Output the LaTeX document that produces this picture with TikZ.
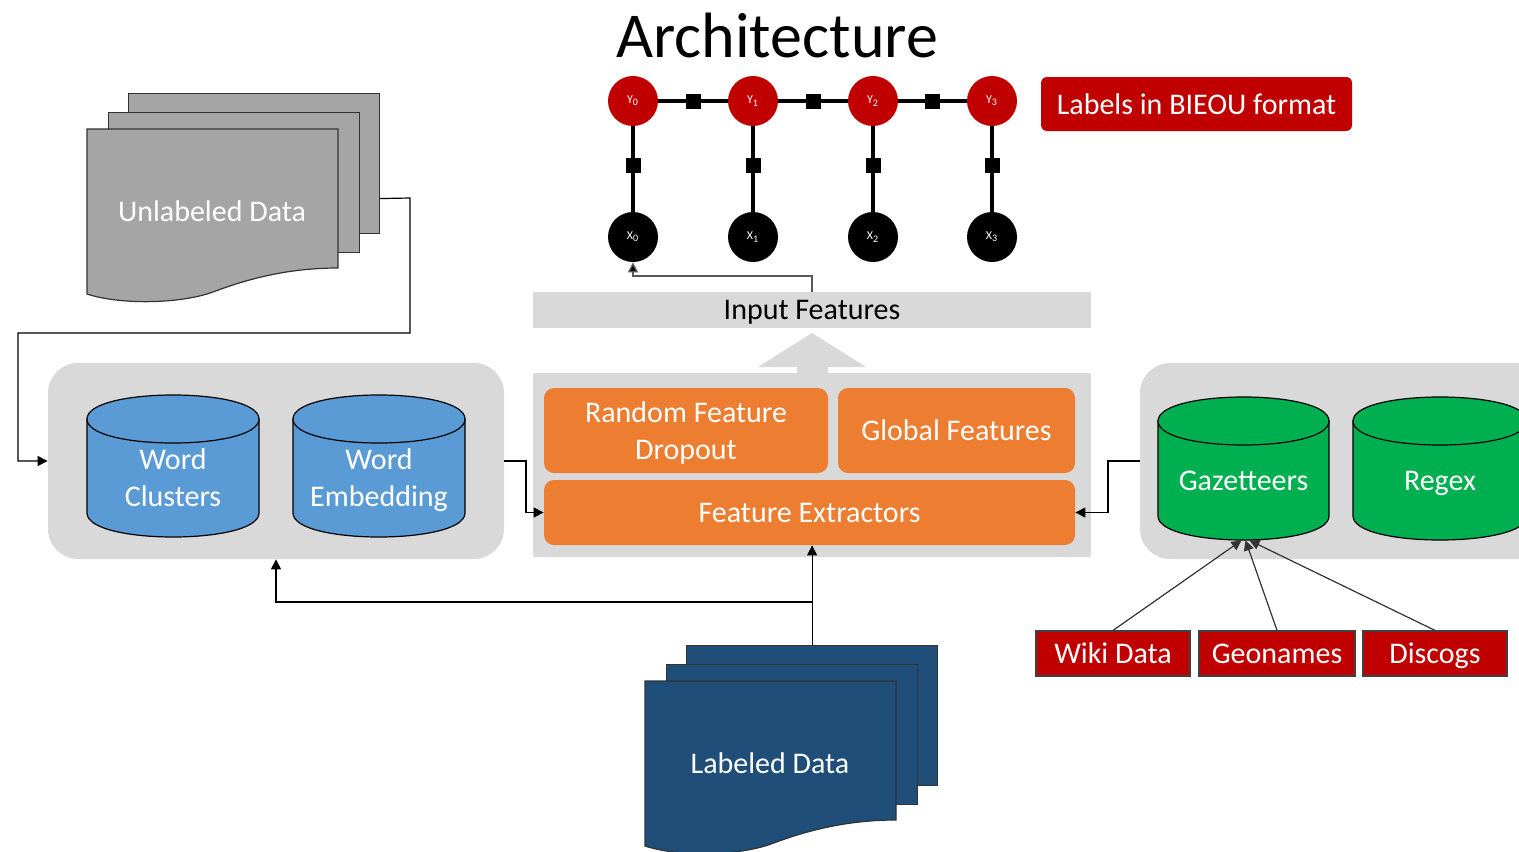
\documentclass[tikz,border=0pt]{standalone}
\usepackage{fontspec}
\setmainfont{Carlito}
\usetikzlibrary{arrows.meta,calc}
\definecolor{boxgray}{HTML}{D9D9D9}
\definecolor{orangeC}{HTML}{ED7D31}
\definecolor{blueC}{HTML}{5B9BD5}
\definecolor{greenC}{HTML}{00B050}
\definecolor{redC}{HTML}{C00000}
\definecolor{navyC}{HTML}{1F4E79}
\definecolor{docgray}{HTML}{A5A5A5}
\tikzset{
  txt/.style={font=\fontsize{15}{18.5}\selectfont, text=white, align=center, inner sep=0pt, text depth=0pt},
  container/.style={fill=boxgray, draw=none, inner sep=0pt},
  obox/.style={txt, fill=orangeC, rounded corners=5pt},
  srcbox/.style={txt, fill=redC, draw=black!75, line width=0.6pt, minimum height=22.5pt},
  conn/.style={draw=black, line width=0.6pt, -{Triangle[length=5pt,width=5pt]}},
  grayconn/.style={draw=black!65, line width=0.7pt, -{Triangle[length=5pt,width=5pt,fill=black]}},
  srcconn/.style={draw=black!80, line width=0.6pt, -{Triangle[length=5pt,width=5pt]}},
  docpage/.style={draw=black!80, line width=0.6pt, minimum width=125.5pt, minimum height=69.75pt, inner sep=0pt, anchor=north west},
  docfront/.style={draw=black!80, line width=0.6pt},
  cylbody/.style={draw=black, line width=0.6pt},
  crfnode/.style={circle, minimum size=25pt, inner sep=0pt, text=white, font=\fontsize{6}{7}\selectfont},
  ynode/.style={crfnode, fill=redC},
  xnode/.style={crfnode, fill=black},
  crfedge/.style={draw=black, line width=2pt},
  factor/.style={fill=black, minimum size=7.5pt, inner sep=0pt, rectangle}
}
% multi-document: #1 name, #2 x0, #3 y0 (front page top-left), #4 fill, #5 text
\newcommand\multidoc[5]{%
  \node[docpage, fill=#4] (#13) at (#2+41,#3-36) {};
  \node[docpage, fill=#4] (#12) at (#2+21,#3-17) {};
  \path[docfront, fill=#4] (#2,#3) -- (#2+251,#3) -- (#2+251,#3+139)
    .. controls (#2+203,#3+139) and (#2+163,#3+149) .. (#2+126,#3+163)
    .. controls (#2+93,#3+175) and (#2+33,#3+176) .. (#2,#3+165) -- cycle;
  \node[txt] (#1) at (#2+125,#3+82) {#5};
}
% cylinder: #1 name, #2 x0, #3 x1, #4 top, #5 bottom, #6 fill, #7 text
\newcommand\dbcyl[7]{%
  \path[cylbody, fill=#6] (#2,#4+24) -- (#2,#5-24)
    .. controls (#2,#5+8) and (#3,#5+8) .. (#3,#5-24) -- (#3,#4+24) -- cycle;
  \path[cylbody, fill=#6] (#2,#4+24) .. controls (#2,#4-8) and (#3,#4-8) .. (#3,#4+24)
    .. controls (#3,#4+56) and (#2,#4+56) .. (#2,#4+24) -- cycle;
  \node[inner sep=0pt, minimum width={(#3-#2)*0.5pt}, minimum height={(#5-#4)*0.5pt}] (#1) at ({(#2+#3)/2},{(#4+#5)/2}) {};
  \node[txt] (#1-t) at ({(#2+#3)/2},{(#4+#5)/2+12}) {#7};
}
\begin{document}
\begin{tikzpicture}[x=0.5pt,y=-0.5pt]
\useasboundingbox (0,0) rectangle (1519,851);
\clip (0,0) rectangle (1519,851);

% title
\node[font=\fontsize{32}{36}\selectfont, anchor=base, inner sep=0pt] (title) at (777,57) {Architecture};

% CRF chain
\node[ynode] (y0) at (633,101) {Y\textsubscript{0}};
\node[ynode] (y1) at (753,101) {Y\textsubscript{1}};
\node[ynode] (y2) at (873,101) {Y\textsubscript{2}};
\node[ynode] (y3) at (992,101) {Y\textsubscript{3}};
\node[xnode] (x0) at (633,237) {X\textsubscript{0}};
\node[xnode] (x1) at (753,237) {X\textsubscript{1}};
\node[xnode] (x2) at (873,237) {X\textsubscript{2}};
\node[xnode] (x3) at (992,237) {X\textsubscript{3}};
\draw[crfedge] (y0) -- node[factor]{} (y1);
\draw[crfedge] (y1) -- node[factor]{} (y2);
\draw[crfedge] (y2) -- node[factor]{} (y3);
\draw[crfedge] (y0) -- node[factor, pos=0.46]{} (x0);
\draw[crfedge] (y1) -- node[factor, pos=0.46]{} (x1);
\draw[crfedge] (y2) -- node[factor, pos=0.46]{} (x2);
\draw[crfedge] (y3) -- node[factor, pos=0.46]{} (x3);

\node[txt, fill=redC, rounded corners=3pt, minimum width=155.5pt, minimum height=27pt] (bieou) at (1196.5,104) {Labels in BIEOU format};

% input features
\node[container, minimum width=279pt, minimum height=18pt, font=\fontsize{15}{18.5}\selectfont, text depth=0pt] (inp) at (812,310) {Input Features};
\draw[grayconn] (inp.north) -- (inp.north |- 0,276) -| (x0.south);

% block arrow
\fill[boxgray] (797,374) -- (797,367) -- (758,367) -- (812,333) -- (866,367) -- (828,367) -- (828,374) -- cycle;

% feature box
\node[container, minimum width=279pt, minimum height=92pt] (featbox) at (812,465) {};
\node[obox, minimum width=142pt, minimum height=42.5pt] (rfd) at (686,430.5) {Random Feature\\Dropout};
\node[obox, minimum width=118.5pt, minimum height=42.5pt] (gf) at (956.5,430.5) {Global Features};
\node[obox, minimum width=265.5pt, minimum height=32.5pt] (fe) at (809.5,512.5) {Feature Extractors};

% left container
\node[container, rounded corners=15pt, minimum width=228pt, minimum height=98pt] (leftbox) at (276,461) {};
\dbcyl{wc}{87}{259}{395}{537}{blueC}{Word\\Clusters}
\dbcyl{we}{293}{465}{395}{537}{blueC}{Word\\Embedding}

% right container
\node[container, rounded corners=15pt, minimum width=220pt, minimum height=98pt] (rightbox) at (1360,461) {};
\dbcyl{gaz}{1158}{1329}{397}{540}{greenC}{Gazetteers}
\dbcyl{regex}{1353}{1527}{397}{540}{greenC}{Regex}

% sources
\node[srcbox, minimum width=77pt] (wiki) at (1113,653.5) {Wiki Data};
\node[srcbox, minimum width=78pt] (geo) at (1277,653.5) {Geonames};
\node[srcbox, minimum width=72pt] (disc) at (1435,653.5) {Discogs};
\draw[srcconn] (wiki.north) -- ([xshift=-1pt]gaz.south);
\draw[srcconn] (geo.north) -- ([xshift=1pt]gaz.south);
\draw[srcconn] (disc.north) -- ([xshift=3pt]gaz.south);

% documents
\multidoc{unlab}{87}{129}{docgray}{Unlabeled Data}
\multidoc{lab}{645}{681}{navyC}{Labeled Data}

% connectors
\draw[conn] ([yshift=-17.6pt]unlab3.east) -- (410,198) -- (410,333) -- (18,333) |- (leftbox.west);
\draw[conn] (leftbox.east) -- (526,461) |- (fe.west);
\draw[conn] (rightbox.west) -- (1108,461) |- (fe.east);
\draw[conn] (lab3.north) -- (lab3.north |- fe.south);
\coordinate (branch) at (lab3.north |- 0,602);
\draw[conn] (branch) -| (leftbox.south);
\end{tikzpicture}
\end{document}
